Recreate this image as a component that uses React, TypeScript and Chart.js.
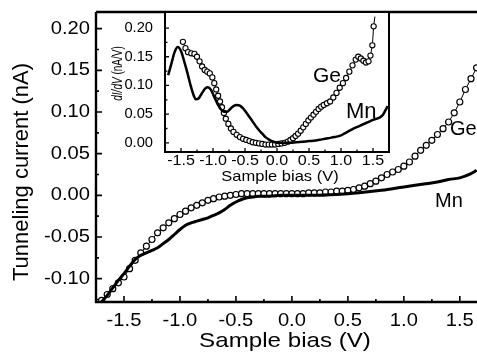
import React, { useEffect, useRef } from "react";
import { Chart, registerables } from "chart.js";

Chart.register(...registerables);

// ---------- Main panel data: tunneling current (nA) vs sample bias (V) ----------
const mainGeBias = [
  -1.7, -1.65, -1.6, -1.55, -1.5, -1.45, -1.4, -1.35, -1.3, -1.25,
  -1.2, -1.15, -1.1, -1.05, -1.0, -0.95, -0.9, -0.85, -0.8, -0.75,
  -0.7, -0.65, -0.6, -0.55, -0.5, -0.45, -0.4, -0.35, -0.3, -0.25,
  -0.2, -0.15, -0.1, -0.05, 0.0, 0.05, 0.1, 0.15, 0.2, 0.25,
  0.3, 0.35, 0.4, 0.45, 0.5, 0.55, 0.6, 0.65, 0.7, 0.75,
  0.8, 0.85, 0.9, 0.95, 1.0, 1.05, 1.1, 1.15, 1.2, 1.25,
  1.3, 1.35, 1.4, 1.45, 1.5, 1.55, 1.6, 1.65,
];
const mainGeCurrent = [
  -0.126, -0.119, -0.112, -0.105, -0.098, -0.088, -0.078, -0.069, -0.061, -0.053,
  -0.045, -0.039, -0.033, -0.028, -0.023, -0.019, -0.015, -0.012, -0.009, -0.006,
  -0.004, -0.002, -0.001, 0.0, 0.001, 0.002, 0.002, 0.002, 0.002, 0.002,
  0.002, 0.002, 0.002, 0.002, 0.002, 0.002, 0.002, 0.003, 0.003, 0.003,
  0.004, 0.004, 0.005, 0.005, 0.006, 0.007, 0.009, 0.011, 0.014, 0.017,
  0.021, 0.025, 0.028, 0.031, 0.035, 0.04, 0.047, 0.054, 0.06, 0.066,
  0.073, 0.08, 0.088, 0.099, 0.112, 0.127, 0.14, 0.153,
];
const mainMnBias = [
  -1.7, -1.65, -1.6, -1.55, -1.5, -1.45, -1.4, -1.35, -1.3, -1.25,
  -1.2, -1.15, -1.1, -1.05, -1.0, -0.95, -0.9, -0.85, -0.8, -0.75,
  -0.7, -0.65, -0.6, -0.55, -0.5, -0.45, -0.4, -0.35, -0.3,
  -0.2, -0.1, 0.0, 0.2, 0.4, 0.6, 0.8, 0.9, 1.0, 1.1, 1.2, 1.3, 1.4, 1.5, 1.6, 1.65,
];
const mainMnCurrent = [
  -0.128, -0.12, -0.111, -0.102, -0.094, -0.085, -0.077, -0.072, -0.069, -0.066,
  -0.063, -0.058, -0.053, -0.047, -0.041, -0.036, -0.033, -0.031, -0.029, -0.027,
  -0.024, -0.021, -0.017, -0.012, -0.008, -0.005, -0.003, -0.002, -0.001,
  -0.001, 0.0, 0.0, 0.0, 0.001, 0.003, 0.006, 0.008, 0.01, 0.012, 0.014, 0.016, 0.019, 0.021, 0.026, 0.03,
];

// ---------- Inset data: dI/dV (nA/V) vs sample bias (V) ----------
const insetGeBias = [
  -1.47, -1.43, -1.39, -1.34, -1.29, -1.25, -1.21, -1.17, -1.13, -1.09,
  -1.05, -1.01, -0.98, -0.95, -0.92, -0.89, -0.86, -0.83, -0.8, -0.76,
  -0.72, -0.68, -0.63, -0.58, -0.53, -0.48, -0.43, -0.38, -0.33, -0.28,
  -0.23, -0.18, -0.13, -0.08, -0.03, 0.02, 0.07, 0.12, 0.17, 0.21,
  0.25, 0.29, 0.33, 0.37, 0.41, 0.45, 0.49, 0.53, 0.57, 0.61,
  0.65, 0.69, 0.73, 0.78, 0.83, 0.88, 0.93, 0.98, 1.03, 1.08,
  1.13, 1.18, 1.23, 1.27, 1.31, 1.35, 1.39, 1.43, 1.46, 1.49,
  1.51, 1.53,
];
const insetGeDidv = [
  0.176, 0.165, 0.158, 0.156, 0.155, 0.15, 0.142, 0.133, 0.127, 0.124,
  0.121, 0.114, 0.104, 0.093, 0.082, 0.072, 0.062, 0.052, 0.042, 0.033,
  0.025, 0.019, 0.014, 0.01, 0.007, 0.005, 0.003, 0.001, 0.0, -0.001,
  -0.002, -0.003, -0.003, -0.003, -0.003, -0.002, -0.001, 0.0, 0.002, 0.005,
  0.008, 0.012, 0.016, 0.021, 0.027, 0.033, 0.039, 0.044, 0.049, 0.054,
  0.059, 0.063, 0.066, 0.069, 0.072, 0.079, 0.087, 0.096, 0.104, 0.113,
  0.124, 0.135, 0.145, 0.15, 0.147, 0.143, 0.14, 0.142, 0.152, 0.17,
  0.203, 0.22,
];
const insetMnBias = [
  -1.7, -1.65, -1.6, -1.55, -1.5, -1.45, -1.4, -1.35, -1.3, -1.27,
  -1.22, -1.17, -1.12, -1.08, -1.03, -0.98, -0.93, -0.88, -0.83, -0.78,
  -0.73, -0.68, -0.63, -0.58, -0.53, -0.48, -0.43, -0.38, -0.33, -0.28,
  -0.23, -0.18, -0.13, -0.08, -0.03, 0.02, 0.1, 0.2, 0.3, 0.4,
  0.5, 0.6, 0.7, 0.8, 0.9, 1.0, 1.05, 1.1, 1.15, 1.2,
  1.3, 1.4, 1.5, 1.6, 1.65, 1.7, 1.73,
];
const insetMnDidv = [
  0.118, 0.138, 0.158, 0.167, 0.16, 0.142, 0.122, 0.1, 0.082, 0.076,
  0.078, 0.087, 0.095, 0.097, 0.092, 0.08, 0.068, 0.059, 0.054, 0.054,
  0.059, 0.064, 0.066, 0.065, 0.06, 0.053, 0.045, 0.037, 0.029, 0.022,
  0.016, 0.01, 0.006, 0.003, 0.001, 0.0, 0.0, 0.0, 0.001, 0.002,
  0.003, 0.004, 0.006, 0.008, 0.01, 0.013, 0.016, 0.019, 0.022, 0.025,
  0.03, 0.035, 0.04, 0.044, 0.048, 0.058, 0.064,
];

// ---------- Ticks ----------
const mainXTicks = [-1.5, -1.0, -0.5, 0.0, 0.5, 1.0, 1.5];
const mainXMinor = [-1.25, -0.75, -0.25, 0.25, 0.75, 1.25, 1.75];
const mainYTicks = [-0.1, -0.05, 0.0, 0.05, 0.1, 0.15, 0.2];
const mainYMinor = [-0.125, -0.075, -0.025, 0.025, 0.075, 0.125, 0.175];
const insetXTicks = [-1.5, -1.0, -0.5, 0.0, 0.5, 1.0, 1.5];
const insetXMinor = [-1.25, -0.75, -0.25, 0.25, 0.75, 1.25];
const insetYTicks = [0.0, 0.05, 0.1, 0.15, 0.2];
const insetYMinor = [0.025, 0.075, 0.125, 0.175];

const FONT = '"Liberation Sans", Arial, Helvetica, sans-serif';

type TxtOpt = {
  size: number;
  sx?: number;
  align?: CanvasTextAlign;
  base?: CanvasTextBaseline;
  rot?: boolean;
  italic?: boolean;
};

function txt(ctx: CanvasRenderingContext2D, s: string, x: number, y: number, o: TxtOpt) {
  ctx.save();
  ctx.translate(x, y);
  ctx.scale(o.sx ?? 1, 1);
  if (o.rot) ctx.rotate(-Math.PI / 2);
  ctx.font = `${o.italic ? "italic " : ""}${o.size}px ${FONT}`;
  ctx.textAlign = o.align ?? "left";
  ctx.textBaseline = o.base ?? "alphabetic";
  ctx.fillStyle = "#000";
  ctx.fillText(s, 0, 0);
  ctx.restore();
}

const mainDeco = {
  id: "mainDeco",
  afterDraw(chart: any) {
    const { ctx, chartArea } = chart;
    const { left, right, top, bottom } = chartArea;
    const xs = chart.scales.x;
    const ys = chart.scales.y;
    ctx.save();
    ctx.strokeStyle = "#000";
    ctx.lineWidth = 2.4;
    ctx.beginPath();
    ctx.moveTo(left, top);
    ctx.lineTo(left, bottom);
    ctx.lineTo(right, bottom);
    ctx.moveTo(left, top);
    ctx.lineTo(right, top);
    ctx.stroke();
    ctx.lineWidth = 1.6;
    ctx.beginPath();
    mainXTicks.forEach((v) => {
      const p = xs.getPixelForValue(v);
      ctx.moveTo(p, bottom);
      ctx.lineTo(p, bottom - 6);
    });
    mainXMinor.forEach((v) => {
      const p = xs.getPixelForValue(v);
      ctx.moveTo(p, bottom);
      ctx.lineTo(p, bottom - 3);
    });
    mainYTicks.forEach((v) => {
      const p = ys.getPixelForValue(v);
      ctx.moveTo(left, p);
      ctx.lineTo(left + 6, p);
    });
    mainYMinor.forEach((v) => {
      const p = ys.getPixelForValue(v);
      ctx.moveTo(left, p);
      ctx.lineTo(left + 3, p);
    });
    ctx.stroke();
    ctx.restore();

    mainXTicks.forEach((v) => {
      txt(ctx, v.toFixed(1), xs.getPixelForValue(v), 321, { size: 18, sx: 1.12, align: "center", base: "middle" });
    });
    mainYTicks.forEach((v) => {
      txt(ctx, v.toFixed(2), 90, ys.getPixelForValue(v), { size: 18, sx: 1.12, align: "right", base: "middle" });
    });
    txt(ctx, "Sample bias (V)", 285, 347, { size: 21, sx: 1.15, align: "center" });
    txt(ctx, "Tunneling current (nA)", 28, 172, { size: 22, align: "center", rot: true });
    txt(ctx, "Ge", 450, 135, { size: 20 });
    txt(ctx, "Mn", 435, 207, { size: 20 });
  },
};

const insetDeco = {
  id: "insetDeco",
  beforeDraw(chart: any) {
    const { ctx, chartArea } = chart;
    ctx.save();
    ctx.fillStyle = "#fff";
    ctx.fillRect(chartArea.left, chartArea.top, chartArea.right - chartArea.left, chartArea.bottom - chartArea.top);
    ctx.restore();
  },
  afterDraw(chart: any) {
    const { ctx, chartArea } = chart;
    const { left, right, top, bottom } = chartArea;
    const xs = chart.scales.x;
    const ys = chart.scales.y;
    ctx.save();
    ctx.strokeStyle = "#000";
    ctx.lineWidth = 2;
    ctx.strokeRect(left, top, right - left, bottom - top);
    ctx.lineWidth = 1.3;
    ctx.beginPath();
    insetXTicks.forEach((v) => {
      const p = xs.getPixelForValue(v);
      ctx.moveTo(p, bottom);
      ctx.lineTo(p, bottom - 4);
    });
    insetXMinor.forEach((v) => {
      const p = xs.getPixelForValue(v);
      ctx.moveTo(p, bottom);
      ctx.lineTo(p, bottom - 2.5);
    });
    insetYTicks.forEach((v) => {
      const p = ys.getPixelForValue(v);
      ctx.moveTo(left, p);
      ctx.lineTo(left + 4, p);
    });
    insetYMinor.forEach((v) => {
      const p = ys.getPixelForValue(v);
      ctx.moveTo(left, p);
      ctx.lineTo(left + 2.5, p);
    });
    ctx.stroke();
    ctx.restore();

    insetXTicks.forEach((v) => {
      txt(ctx, v.toFixed(1), xs.getPixelForValue(v), 161, { size: 15, sx: 1.07, align: "center", base: "middle" });
    });
    insetYTicks.forEach((v) => {
      txt(ctx, v.toFixed(2), 153, ys.getPixelForValue(v), { size: 14, sx: 1.05, align: "right", base: "middle" });
    });
    txt(ctx, "Sample bias (V)", 280, 181, { size: 15, sx: 1.1, align: "center" });

    // rotated rich label: italic dI/dV + normal (nA/V)
    const segs = [
      { t: "dI/dV", it: true },
      { t: " (nA/V)", it: false },
    ];
    const size = 10;
    const sx = 1.4;
    ctx.save();
    ctx.translate(122, 73.5);
    ctx.scale(sx, 1);
    ctx.rotate(-Math.PI / 2);
    ctx.fillStyle = "#000";
    ctx.textBaseline = "alphabetic";
    ctx.textAlign = "left";
    let total = 0;
    const widths = segs.map((s) => {
      ctx.font = `${s.it ? "italic " : ""}${size}px ${FONT}`;
      const w = ctx.measureText(s.t).width;
      total += w;
      return w;
    });
    let pos = -total / 2;
    segs.forEach((s, i) => {
      ctx.font = `${s.it ? "italic " : ""}${size}px ${FONT}`;
      ctx.fillText(s.t, pos, 0);
      pos += widths[i];
    });
    ctx.restore();

    txt(ctx, "Ge", 313, 82, { size: 21 });
    txt(ctx, "Mn", 346, 118, { size: 22 });
  },
};

function pts(xs: number[], ys: number[]) {
  return xs.map((x, i) => ({ x, y: ys[i] }));
}

export default function App() {
  const mainRef = useRef<HTMLCanvasElement>(null);
  const insetRef = useRef<HTMLCanvasElement>(null);

  useEffect(() => {
    const common = {
      responsive: false,
      animation: false as const,
      devicePixelRatio: 1,
      events: [] as any[],
      plugins: { legend: { display: false }, tooltip: { enabled: false } },
    };
    const main = new Chart(mainRef.current!, {
      type: "line",
      data: {
        datasets: [
          {
            label: "Mn",
            data: pts(mainMnBias, mainMnCurrent),
            borderColor: "#000",
            borderWidth: 3,
            pointRadius: 0,
            cubicInterpolationMode: "monotone",
          },
          {
            label: "Ge",
            data: pts(mainGeBias, mainGeCurrent),
            borderColor: "#000",
            borderWidth: 1,
            pointRadius: 3,
            pointBorderWidth: 1.2,
            pointBackgroundColor: "#fff",
            pointBorderColor: "#000",
          },
        ],
      },
      options: {
        ...common,
        layout: { autoPadding: false, padding: { left: 96, top: 12, right: 21, bottom: 56 } },
        scales: {
          x: { type: "linear", min: -1.75, max: 1.85, display: false },
          y: { type: "linear", min: -0.128, max: 0.22, display: false },
        },
      } as any,
      plugins: [mainDeco],
    });

    const nGe = insetGeBias.length;
    const inset = new Chart(insetRef.current!, {
      type: "line",
      data: {
        datasets: [
          {
            label: "Mn",
            data: pts(insetMnBias, insetMnDidv),
            borderColor: "#000",
            borderWidth: 2.5,
            pointRadius: 0,
            cubicInterpolationMode: "monotone",
          },
          {
            label: "Ge",
            data: pts(insetGeBias, insetGeDidv),
            borderColor: "#000",
            borderWidth: 1,
            pointRadius: (c: any) => (c.dataIndex === nGe - 1 ? 0 : 2.6),
            pointBorderWidth: 1.1,
            pointBackgroundColor: "#fff",
            pointBorderColor: "#000",
          },
        ],
      },
      options: {
        ...common,
        layout: { autoPadding: false, padding: { left: 165, top: 12, right: 88, bottom: 206 } },
        scales: {
          x: { type: "linear", min: -1.75, max: 1.75, display: false },
          y: { type: "linear", min: -0.016, max: 0.228, display: false },
        },
      } as any,
      plugins: [insetDeco],
    });

    return () => {
      main.destroy();
      inset.destroy();
    };
  }, []);

  return (
    <div
      style={{
        position: "fixed",
        left: 0,
        top: 0,
        width: 477,
        height: 358,
        overflow: "hidden",
        background: "#fff",
      }}
    >
      <canvas
        ref={mainRef}
        width={520}
        height={358}
        style={{ position: "absolute", left: 0, top: 0, width: 520, height: 358 }}
      />
      <canvas
        ref={insetRef}
        width={477}
        height={358}
        style={{ position: "absolute", left: 0, top: 0, width: 477, height: 358 }}
      />
    </div>
  );
}
